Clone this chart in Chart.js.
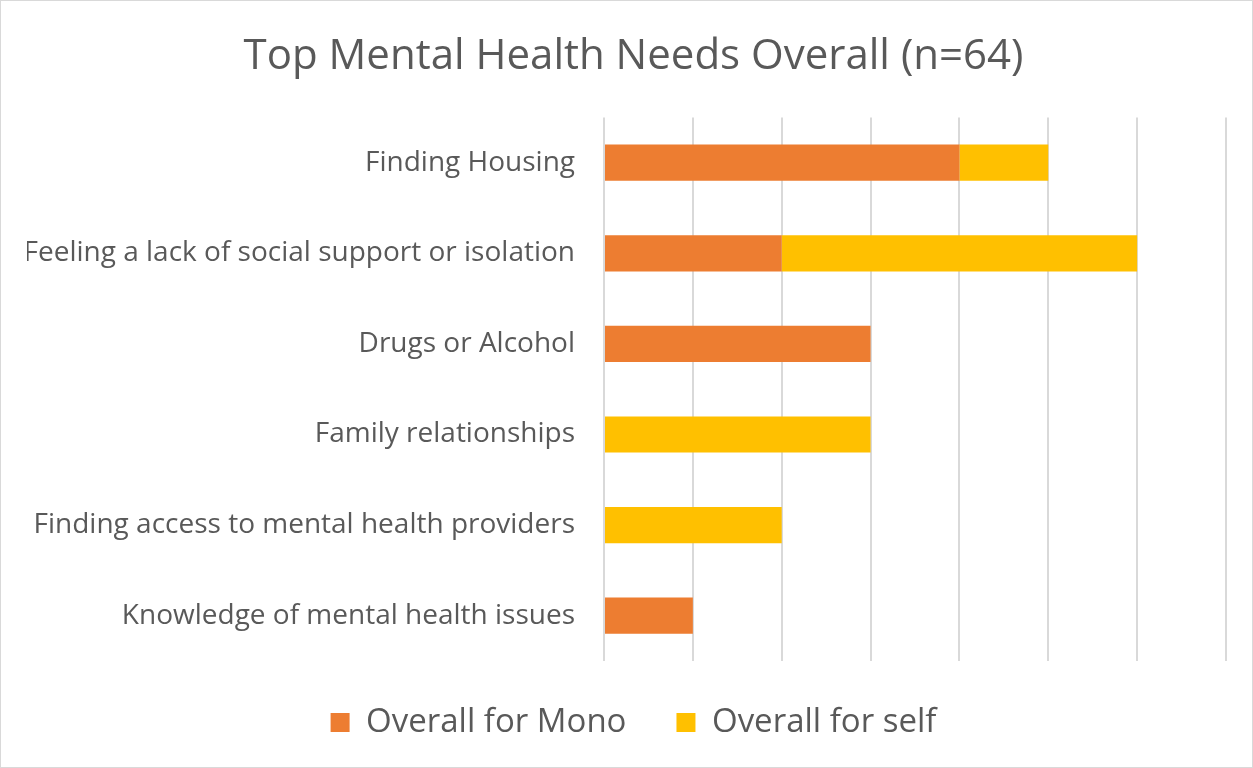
<!DOCTYPE html>
<html>
<head>
<meta charset="utf-8">
<script src="https://cdn.jsdelivr.net/npm/chart.js@4/dist/chart.umd.min.js"></script>
<style>
  html, body { margin: 0; padding: 0; background: #fff; }
  #wrap { width: 1251px; height: 766px; border: 1px solid #d9d9d9; }
</style>
</head>
<body>
<div id="wrap"><canvas id="grafica" width="1251" height="766"></canvas></div>
<script>
// Datos
const categorias = [
    'Finding Housing',
    'Feeling a lack of social support or isolation',
    'Drugs or Alcohol',
    'Family relationships',
    'Finding access to mental health providers',
    'Knowledge of mental health issues'
];
const valoresMono = [4, 2, 3, 0, 0, 1];
const valoresSelf = [1, 4, 0, 3, 2, 0];

const gris = '#595959';
const fuente = "'Open Sans', 'Noto Sans', sans-serif";

const canvas = document.getElementById('grafica');
new Chart(canvas, {
    type: 'bar',
    data: {
        labels: categorias,
        datasets: [
            {
                label: 'Overall for Mono',
                data: valoresMono,
                backgroundColor: '#ED7D31',
                barPercentage: 0.4,
                categoryPercentage: 1,
            },
            {
                label: 'Overall for self',
                data: valoresSelf,
                backgroundColor: '#FFC000',
                barPercentage: 0.4,
                categoryPercentage: 1,
            },
        ],
    },
    options: {
        indexAxis: 'y',
        responsive: false,
        animation: false,
        layout: { padding: { left: 26, right: 12, top: 10, bottom: 13 } },
        plugins: {
            title: {
                display: true,
                text: 'Top Mental Health Needs Overall (n=64)',
                color: gris,
                font: { family: fuente, size: 42, weight: 'normal' },
                padding: { top: 21, bottom: 35 },
            },
            legend: {
                position: 'bottom',
                labels: {
                    color: gris,
                    font: { family: fuente, size: 33 },
                    boxWidth: 19,
                    boxHeight: 19,
                    padding: 50,
                },
            },
            tooltip: { enabled: false },
        },
        scales: {
            x: {
                stacked: true,
                min: 0,
                max: 7,
                ticks: { display: false, stepSize: 1 },
                grid: { color: '#d9d9d9', lineWidth: 2, drawTicks: false },
                border: { display: false },
                afterFit: (escala) => { escala.height -= 5; },
            },
            y: {
                stacked: true,
                grid: { display: false },
                border: { display: false },
                ticks: {
                    color: gris,
                    font: { family: fuente, size: 28 },
                    padding: 21,
                },
                afterFit: (escala) => { escala.width = 577; },
            },
            // eje vacío a la derecha, solo para dejar margen
            derecha: {
                axis: 'y',
                type: 'linear',
                position: 'right',
                ticks: { display: false },
                grid: { display: false },
                border: { display: false },
                afterFit: (escala) => { escala.width = 14; },
            },
        },
    },
});
</script>
</body>
</html>
